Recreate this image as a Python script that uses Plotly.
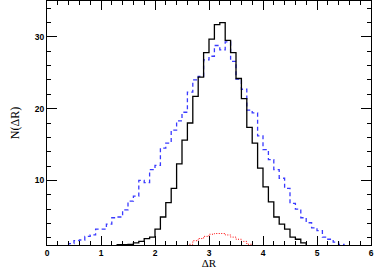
import plotly.graph_objects as go

BIN_WIDTH = 0.1

# Black solid histogram: left bin edges and counts
black_bins = [1.3, 1.4, 1.5, 1.6, 1.7, 1.8, 1.9, 2.0, 2.1, 2.2, 2.3, 2.4, 2.5, 2.6,
              2.7, 2.8, 2.9, 3.0, 3.1, 3.2, 3.3, 3.4, 3.5, 3.6, 3.7, 3.8, 3.9, 4.0,
              4.1, 4.2, 4.3, 4.4, 4.5, 4.6, 4.7]
black_vals = [1.05, 1.05, 1.1, 1.3, 1.5, 1.9, 2.1, 3.2, 4.9, 6.9, 8.9, 12.3, 15.6, 18.0,
              21.7, 24.4, 27.8, 29.7, 31.7, 32.0, 29.5, 27.8, 24.2, 21.4, 17.4, 15.2, 11.7, 9.1,
              7.0, 4.9, 3.9, 3.2, 2.1, 1.8, 1.3]

# Blue dashed histogram
blue_bins = [0.4, 0.5, 0.6, 0.7, 0.8, 0.9, 1.0, 1.1, 1.2, 1.3, 1.4, 1.5, 1.6, 1.7,
             1.8, 1.9, 2.0, 2.1, 2.2, 2.3, 2.4, 2.5, 2.6, 2.7, 2.8, 2.9, 3.0, 3.1,
             3.2, 3.3, 3.4, 3.5, 3.6, 3.7, 3.8, 3.9, 4.0, 4.1, 4.2, 4.3, 4.4, 4.5,
             4.6, 4.7, 4.8, 4.9, 5.0, 5.1, 5.2, 5.3, 5.4]
blue_vals = [1.2, 1.6, 1.7, 2.2, 2.4, 3.2, 3.2, 3.9, 4.8, 4.9, 5.9, 7.1, 7.8, 10.0,
             9.7, 11.5, 12.1, 14.5, 15.2, 17.0, 18.3, 19.5, 22.3, 24.0, 24.5, 26.8, 27.3, 28.8,
             28.2, 29.3, 26.6, 24.1, 22.7, 19.8, 19.4, 16.2, 14.3, 12.9, 11.5, 10.3, 8.9, 6.8,
             6.0, 4.8, 4.1, 3.4, 3.0, 2.1, 1.8, 1.4, 1.1]

# Red dotted histogram
red_bins = [2.6, 2.7, 2.8, 2.9, 3.0, 3.1, 3.2, 3.3, 3.4, 3.5, 3.6, 3.7]
red_vals = [1.1, 1.6, 1.9, 2.2, 2.5, 2.6, 2.6, 2.4, 2.1, 1.8, 1.5, 1.1]

x_ticks = [0, 1, 2, 3, 4, 5, 6]
y_ticks = [10, 20, 30]


def step_xy(bins, vals):
    xs = [bins[0]] + list(bins) + [bins[-1] + BIN_WIDTH]
    ys = [0] + list(vals) + [0]
    return xs, ys


fig = go.Figure()
for bins, vals, color, dash, width in [
    (blue_bins, blue_vals, "#3a3aff", "4px,3px", 1.3),
    (black_bins, black_vals, "black", "solid", 1.3),
    (red_bins, red_vals, "red", "1px,1.5px", 1.0),
]:
    xs, ys = step_xy(bins, vals)
    fig.add_trace(go.Scatter(x=xs, y=ys, mode="lines", line_shape="hv",
                             line=dict(color=color, dash=dash, width=width),
                             showlegend=False, hoverinfo="skip"))

axis_common = dict(showline=True, linecolor="black", linewidth=1.2, mirror="allticks",
                   ticks="inside", tickcolor="black", tickwidth=1.2, showgrid=False,
                   zeroline=False, automargin=False,
                   tickfont=dict(family="Liberation Sans", size=8.5, color="black", weight="bold"))

fig.update_xaxes(range=[0, 6], tickvals=x_ticks, ticktext=[str(v) for v in x_ticks], ticklen=9,
                 minor=dict(ticks="inside", ticklen=4, dtick=0.2, tick0=0, tickcolor="black",
                            tickwidth=1, showgrid=False),
                 title=dict(text="ΔR", font=dict(family="Liberation Serif", size=11, color="black"),
                            standoff=10),
                 **axis_common)
fig.update_yaxes(range=[1, 35], tickvals=y_ticks, ticktext=[str(v) for v in y_ticks], ticklen=10,
                 minor=dict(ticks="inside", ticklen=4, dtick=2, tick0=0, tickcolor="black",
                            tickwidth=1, showgrid=False),
                 title=dict(text="N(ΔR)", font=dict(family="Liberation Serif", size=12, color="black"),
                            standoff=12),
                 **axis_common)

fig.update_layout(width=374, height=269, margin=dict(l=47, r=3, t=1, b=24),
                  paper_bgcolor="white", plot_bgcolor="white")

fig.write_html("out.html", config={"displayModeBar": False},
               post_script="document.body.style.margin='0';")
